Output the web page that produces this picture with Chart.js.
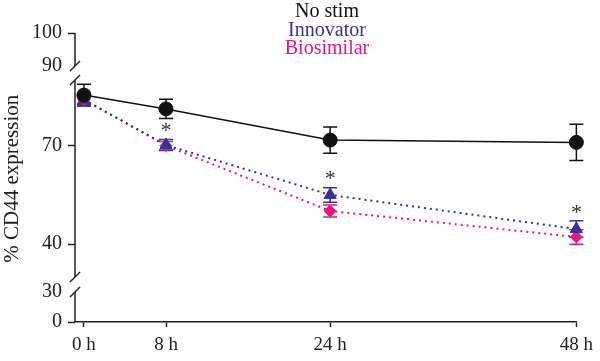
<!DOCTYPE html>
<html>
<head>
<meta charset="utf-8">
<script src="https://cdn.jsdelivr.net/npm/chart.js@4"></script>
<style>
html, body { margin: 0; padding: 0; background: #fff; }
</style>
</head>
<body>
<canvas id="cd44Chart" width="600" height="361"></canvas>
<script>
// Data
const hours = [0, 8, 24, 48];
const hourTicks = [0, 8, 24, 48];
const noStim = [85.4, 81.2, 71.7, 71.0];
const noStimErr = [3.3, 2.9, 4.0, 5.5];
const innovator = [84.0, 70.2, 55.0, 44.6];
const innovatorErr = [1.5, 1.7, 2.2, 2.5];
const biosimilar = [84.0, 70.0, 50.1, 42.2];
const biosimilarErr = [1.2, 1.3, 1.8, 2.2];
const starHours = [8, 24, 48];
const topTicks = [90, 100];
const midTicks = [40, 70];
const botTicks = [0, 30];
const seriesNames = ['No stim', 'Innovator', 'Biosimilar'];

const black = '#111111';
const blue = '#3b309a';
const pink = '#e8167e';
const axisColor = '#222222';
const serif = '"Liberation Serif", "DejaVu Serif", serif';

const toPoints = vals => hours.map((h, i) => ({ x: h, y: vals[i] }));
const errs = [noStimErr, innovatorErr, biosimilarErr];

// break marks: axis piece ends with a slash
const breaks = [['yTop', 90], ['yMid', 90], ['yMid', 30], ['yBot', 30]];
const pieces = [['yTop', 90, 100], ['yMid', 30, 90], ['yBot', 0, 30]];

const brokenAxis = {
    id: 'brokenAxis',
    beforeDatasetsDraw(chart) {
        const c = chart.ctx;
        const x = chart.chartArea.left;
        c.save();
        c.strokeStyle = axisColor;
        c.lineWidth = 1.5;
        pieces.forEach(([id, lo, hi]) => {
            const s = chart.scales[id];
            c.beginPath();
            c.moveTo(x, s.getPixelForValue(hi));
            c.lineTo(x, s.getPixelForValue(lo));
            c.stroke();
        });
        breaks.forEach(([id, v]) => {
            const y = chart.scales[id].getPixelForValue(v);
            c.beginPath();
            c.moveTo(x - 5, y + 5);
            c.lineTo(x + 5, y - 5);
            c.stroke();
        });

        // error bars, drawn under the markers
        const xs = chart.scales.x;
        const ys = chart.scales.yMid;
        for (let d = chart.data.datasets.length - 1; d >= 0; d--) {
            const ds = chart.data.datasets[d];
            c.strokeStyle = ds.borderColor;
            c.lineWidth = 1.5;
            ds.data.forEach((p, i) => {
                const px = xs.getPixelForValue(p.x);
                const top = ys.getPixelForValue(p.y + errs[d][i]);
                const bot = ys.getPixelForValue(p.y - errs[d][i]);
                c.beginPath();
                c.moveTo(px, top); c.lineTo(px, bot);
                c.moveTo(px - 7, top); c.lineTo(px + 7, top);
                c.moveTo(px - 7, bot); c.lineTo(px + 7, bot);
                c.stroke();
            });
        }
        c.restore();
    },
    afterDraw(chart) {
        const c = chart.ctx;
        const xs = chart.scales.x;
        const ys = chart.scales.yMid;
        c.save();
        // significance stars above innovator
        c.fillStyle = '#333';
        c.font = '22px ' + serif;
        c.textAlign = 'center';
        c.textBaseline = 'middle';
        starHours.forEach(h => {
            const i = hours.indexOf(h);
            const y = ys.getPixelForValue(innovator[i] + innovatorErr[i]) - 8;
            c.fillText('*', xs.getPixelForValue(h), y);
        });
        // legend as coloured text
        c.font = '20px ' + serif;
        [black, blue, pink].forEach((col, i) => {
            c.fillStyle = col;
            c.fillText(seriesNames[i], 327, 12 + i * 18.5);
        });
        c.restore();
    }
};

const yTickFont = { family: serif, size: 20 };
const yGrid = {
    drawOnChartArea: false,
    tickLength: 7,
    tickWidth: 1.5,
    tickColor: ctx => (ctx.tick && (ctx.tick.value === 90 || ctx.tick.value === 30)) ? 'rgba(0,0,0,0)' : axisColor
};
const yScale = (min, max, weight, list, order) => ({
    type: 'linear',
    position: 'left',
    stack: 'cd44',
    stackWeight: weight,
    weight: order,
    min: min,
    max: max,
    border: { display: false },
    grid: yGrid,
    ticks: { font: yTickFont, color: axisColor, padding: 6, autoSkip: false },
    afterBuildTicks: s => { s.ticks = list.map(v => ({ value: v })); },
    afterFit: s => { s.width = 75; }
});

const ctx = document.getElementById('cd44Chart').getContext('2d');
const cd44Chart = new Chart(ctx, {
    type: 'line',
    data: {
        datasets: [
            {
                label: seriesNames[0],
                data: toPoints(noStim),
                yAxisID: 'yMid',
                clip: false,
                borderColor: black,
                backgroundColor: black,
                borderWidth: 1.5,
                pointStyle: 'circle',
                pointRadius: 7,
                pointBorderWidth: 1
            },
            {
                label: seriesNames[1],
                data: toPoints(innovator),
                yAxisID: 'yMid',
                clip: false,
                borderColor: blue,
                backgroundColor: blue,
                borderWidth: 2,
                borderDash: [2, 4],
                pointStyle: 'triangle',
                pointRadius: 7,
                pointBorderWidth: 1
            },
            {
                label: seriesNames[2],
                data: toPoints(biosimilar),
                yAxisID: 'yMid',
                clip: false,
                borderColor: pink,
                backgroundColor: pink,
                borderWidth: 2,
                borderDash: [2, 4],
                pointStyle: 'rectRot',
                pointRadius: 6,
                pointBorderWidth: 1
            }
        ]
    },
    options: {
        responsive: false,
        animation: false,
        layout: { padding: { top: 33, right: 22, left: 0, bottom: 0 } },
        plugins: {
            legend: { display: false },
            tooltip: { enabled: false }
        },
        scales: {
            x: {
                type: 'linear',
                min: -0.87,
                max: 48,
                border: { display: true, color: axisColor, width: 1.5 },
                grid: { drawOnChartArea: false, tickLength: 5, tickWidth: 1.5, tickColor: axisColor },
                ticks: {
                    font: { family: serif, size: 19 },
                    color: axisColor,
                    padding: 7,
                    autoSkip: false,
                    maxRotation: 0,
                    callback: v => v + ' h'
                },
                afterBuildTicks: s => { s.ticks = hourTicks.map(v => ({ value: v })); },
                afterFit: s => { s.height = 39; }
            },
            yBot: yScale(0, 37.5, 37.5, botTicks, 1),
            yMid: Object.assign(yScale(27.72, 92.13, 211.5, midTicks, 2), {
                title: {
                    display: true,
                    text: '% CD44 expression',
                    font: { family: serif, size: 21 },
                    color: axisColor,
                    padding: { top: 0, bottom: 0 }
                }
            }),
            yTop: yScale(87.88, 100, 40, topTicks, 3)
        }
    },
    plugins: [brokenAxis]
});
</script>
</body>
</html>
